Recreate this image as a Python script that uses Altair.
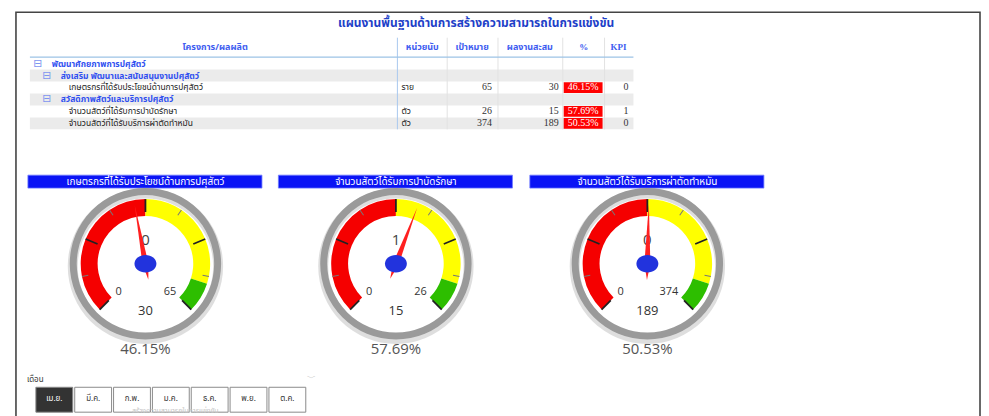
import math
import altair as alt
import pandas as pd

# ------------------------------------------------------------------ data
title_text = "แผนงานพื้นฐานด้านการสร้างความสามารถในการแข่งขัน"
headers = ["โครงการ/ผลผลิต", "หน่วยนับ", "เป้าหมาย", "ผลงานสะสม", "%", "KPI"]

row_labels = [
    "พัฒนาศักยภาพการปศุสัตว์",
    "ส่งเสริม พัฒนาและสนับสนุนงานปศุสัตว์",
    "เกษตรกรที่ได้รับประโยชน์ด้านการปศุสัตว์",
    "สวัสดิภาพสัตว์และบริการปศุสัตว์",
    "จำนวนสัตว์ที่ได้รับการบำบัดรักษา",
    "จำนวนสัตว์ที่ได้รับบริการผ่าตัดทำหมัน",
]
row_levels = [0, 1, 2, 1, 2, 2]
row_units = ["", "", "ราย", "", "ตัว", "ตัว"]
row_targets = [None, None, 65, None, 26, 374]
row_actuals = [None, None, 30, None, 15, 189]
row_kpis = [None, None, 0, None, 1, 0]

gauge_titles = [
    "เกษตรกรที่ได้รับประโยชน์ด้านการปศุสัตว์",
    "จำนวนสัตว์ได้รับการบำบัดรักษา",
    "จำนวนสัตว์ได้รับบริการผ่าตัดทำหมัน",
]
gauge_targets = [65, 26, 374]
gauge_actuals = [30, 15, 189]
gauge_kpis = [0, 1, 0]

band_from = [0.0, 0.5, 0.9]
band_to = [0.5, 0.9, 1.0]
band_colors = ["#F50000", "#FFFF00", "#2DBE00"]
major_ticks = [0.0, 0.25, 0.5, 0.75, 1.0]
minor_ticks = [0.125, 0.375, 0.625, 0.875]

slicer_label = "เดือน"
months = ["เม.ย.", "มี.ค.", "ก.พ.", "ม.ค.", "ธ.ค.", "พ.ย.", "ต.ค."]
tooltip_text = "สร้างความสามารถในการแข่งขัน"

# ------------------------------------------------------------------ layout
W, H = 977, 408
def P(v):
    return v - 8

THAI = "Tahoma, 'Noto Sans Thai', 'Leelawadee UI', sans-serif"
SERIF = "'Liberation Serif', 'Times New Roman', serif"
UI = "'Open Sans', 'Noto Sans', sans-serif"
one = pd.DataFrame({"k": [0]})
layers = []

# frame
layers.append(alt.Chart(one).mark_rect(fill="white", stroke="#444", strokeWidth=1.6).encode(
    x=alt.value(P(16)), x2=alt.value(P(984)), y=alt.value(P(11.5)), y2=alt.value(P(440))))

# title
layers.append(alt.Chart(pd.DataFrame({"t": [title_text]})).mark_text(
    font=THAI, fontSize=12, fontWeight="bold", color="#1E3FC8", baseline="middle", align="center"
).encode(x=alt.value(P(478)), y=alt.value(P(22.5)), text="t:N"))

# ---------------- table
rows = pd.DataFrame({"label": row_labels, "level": row_levels, "unit": row_units,
                     "target": row_targets, "actual": row_actuals, "kpi": row_kpis})
rows["r"] = list(range(len(rows)))
rows["r1"] = rows["r"] + 1
rows["rc"] = rows["r"] + 0.5
rows["p0"] = rows["r"] + 0.05
rows["p1"] = rows["r"] + 0.95
def fmt(v):
    return "" if v is None or pd.isna(v) else str(int(v))
rows["target_t"] = [fmt(v) for v in row_targets]
rows["actual_t"] = [fmt(v) for v in row_actuals]
rows["kpi_t"] = [fmt(v) for v in row_kpis]
rows["pct_t"] = ["" if t is None else f"{a / t * 100:.2f}%" for a, t in zip(row_actuals, row_targets)]

row_scale = alt.Scale(domain=[0, 6], range=[P(57), P(129)])
def ry(f):
    return alt.Y(f + ":Q", scale=row_scale, axis=None)

base = alt.Chart(rows)
layers.append(base.mark_rect(color="#EBEBEB").encode(
    x=alt.value(P(30)), x2=alt.value(P(636)), y=ry("r"), y2="r1"
).transform_filter("datum.r % 2 == 1"))

# separators
for i, sx in enumerate([399, 449, 500, 565, 607]):
    layers.append(alt.Chart(one).mark_rule(color="#A8C8EE" if i == 0 else "#E2E2E2", strokeWidth=1).encode(
        x=alt.value(P(sx)), y=alt.value(P(37)), y2=alt.value(P(129))))
layers.append(alt.Chart(one).mark_rule(color="#9DC3E6", strokeWidth=1.2).encode(
    x=alt.value(P(30)), x2=alt.value(P(636)), y=alt.value(P(56.5))))

# header
hdr = pd.DataFrame({"h": headers, "c": list(range(len(headers)))})
for c, hx in enumerate([216, 424, 474, 532, 586, 621]):
    layers.append(alt.Chart(hdr).mark_text(
        font=THAI if c < 4 else SERIF, fontSize=9, fontWeight="bold", color="#3D5CF0", align="center", baseline="middle"
    ).encode(x=alt.value(P(hx)), y=alt.value(P(46)), text="h:N").transform_filter(f"datum.c == {c}"))

# row labels
for lvl, (ix, tx) in enumerate([(38, 52), (47, 61), (None, 69)]):
    if ix is not None:
        layers.append(base.mark_text(font="DejaVu Sans", fontSize=11, color="#7D95F0", align="center",
                                     baseline="middle").encode(
            x=alt.value(P(ix)), y=ry("rc"), text=alt.value("⊟")).transform_filter(f"datum.level == {lvl}"))
    layers.append(base.mark_text(
        font=THAI, fontSize=8.5, fontWeight="bold" if lvl < 2 else "normal",
        color="#3050F0" if lvl < 2 else "#222", align="left", baseline="middle"
    ).encode(x=alt.value(P(tx)), y=ry("rc"), text="label:N").transform_filter(f"datum.level == {lvl}"))

leaf = base.transform_filter("datum.level == 2")
layers.append(leaf.mark_text(font=THAI, fontSize=8.5, color="#222", align="left", baseline="middle").encode(
    x=alt.value(P(403)), y=ry("rc"), text="unit:N"))
layers.append(leaf.mark_text(font=SERIF, fontSize=10, color="#333", align="right", baseline="middle").encode(
    x=alt.value(P(494)), y=ry("rc"), text="target_t:N"))
layers.append(leaf.mark_text(font=SERIF, fontSize=10, color="#333", align="right", baseline="middle").encode(
    x=alt.value(P(561)), y=ry("rc"), text="actual_t:N"))
layers.append(leaf.mark_rect(color="#FF0000").encode(
    x=alt.value(P(566)), x2=alt.value(P(605)), y=ry("p0"), y2="p1"))
layers.append(leaf.mark_text(font=SERIF, fontSize=10, color="white", align="center", baseline="middle").encode(
    x=alt.value(P(585.5)), y=ry("rc"), text="pct_t:N"))
layers.append(leaf.mark_text(font=SERIF, fontSize=10, color="#333", align="right", baseline="middle").encode(
    x=alt.value(P(631)), y=ry("rc"), text="kpi_t:N"))

# ---------------- gauges
theta_scale = alt.Scale(domain=[0, 1], range=[1.25 * math.pi, 2.75 * math.pi])
angle_scale = alt.Scale(domain=[0, 1], range=[225, 495])
bands = pd.DataFrame({"f0": band_from, "f1": band_to, "col": band_colors})
ticks_major = pd.DataFrame({"f": major_ticks})
ticks_minor = pd.DataFrame({"f": minor_ticks})

R_BAND, R_BAND_IN = 65, 48
NEEDLE = "M 0 -1 L 0.05 0 L 0 0.27 L -0.05 0 Z"
HUB = "M -1 0 A 1 0.8 0 1 0 1 0 A 1 0.8 0 1 0 -1 0 Z"

for i, gcx in enumerate([146, 397.5, 650]):
    cx, cy = P(gcx), P(264)
    g = pd.DataFrame({"title": [gauge_titles[i]], "target": [gauge_targets[i]],
                      "actual": [gauge_actuals[i]], "kpi": [gauge_kpis[i]]})
    g["pct"] = g["actual"] / g["target"]
    g["pct_t"] = (g["pct"] * 100).map(lambda v: f"{v:.2f}%")
    g["min_t"] = "0"
    gb = alt.Chart(g)

    layers.append(alt.Chart(one).mark_rect(color="#0A14F5", stroke="#6E7BFF", strokeWidth=0.8).encode(
        x=alt.value(cx - 118), x2=alt.value(cx + 117), y=alt.value(P(175)), y2=alt.value(P(188))))
    layers.append(gb.mark_text(font=THAI, fontSize=10, color="white", align="center", baseline="middle").encode(
        x=alt.value(cx), y=alt.value(P(181.5)), text="title:N"))

    # ring with soft shadow
    layers.append(alt.Chart(one).mark_arc(radius=78, radius2=68, theta=0, theta2=2 * math.pi,
                                          color="#C8C8C8", opacity=0.6).encode(
        x=alt.value(cx), y=alt.value(cy + 2.5)))
    layers.append(alt.Chart(one).mark_arc(radius=76, radius2=69, theta=0, theta2=2 * math.pi,
                                          color="#9A9A9A").encode(x=alt.value(cx), y=alt.value(cy)))

    # bands
    layers.append(alt.Chart(bands).mark_arc(radius=R_BAND, radius2=R_BAND_IN).encode(
        x=alt.value(cx), y=alt.value(cy),
        theta=alt.Theta("f0:Q", scale=theta_scale, stack=None),
        theta2=alt.Theta2("f1:Q"),
        color=alt.Color("col:N", scale=None)))

    # ticks
    layers.append(alt.Chart(ticks_minor).mark_point(
        shape="M 0 -1 L 0 -0.9", filled=False, size=(2 * R_BAND) ** 2, color="#777",
        strokeWidth=1, opacity=1).encode(
        x=alt.value(cx), y=alt.value(cy), angle=alt.Angle("f:Q", scale=angle_scale)))
    layers.append(alt.Chart(ticks_major).mark_point(
        shape="M 0 -1 L 0 -0.8", filled=False, size=(2 * R_BAND) ** 2, color="#222",
        strokeWidth=1.8, opacity=1).encode(
        x=alt.value(cx), y=alt.value(cy), angle=alt.Angle("f:Q", scale=angle_scale)))

    # labels
    layers.append(gb.mark_text(font=UI, fontSize=11, color="#333", align="left", baseline="middle").encode(
        x=alt.value(cx - 30), y=alt.value(cy + 28), text="min_t:N"))
    layers.append(gb.mark_text(font=UI, fontSize=11, color="#333", align="right", baseline="middle").encode(
        x=alt.value(cx + 31), y=alt.value(cy + 28), text="target:Q"))
    layers.append(gb.mark_text(font=UI, fontSize=15, color="#444", align="center", baseline="middle").encode(
        x=alt.value(cx), y=alt.value(cy - 24), text="kpi:Q"))
    layers.append(gb.mark_text(font=UI, fontSize=13, color="#333", align="center", baseline="middle").encode(
        x=alt.value(cx), y=alt.value(cy + 47), text="actual:Q"))
    layers.append(gb.mark_text(font=UI, fontSize=15, color="#555", align="center", baseline="middle").encode(
        x=alt.value(cx), y=alt.value(P(350)), text="pct_t:N"))

    # needle and hub
    layers.append(gb.mark_point(shape=NEEDLE, filled=True, size=(2 * 60) ** 2, color="#FF2020",
                                opacity=1, strokeWidth=0).encode(
        x=alt.value(cx), y=alt.value(cy), angle=alt.Angle("pct:Q", scale=angle_scale)))
    layers.append(alt.Chart(one).mark_point(shape=HUB, filled=True, size=22 ** 2, color="#2233DD",
                                            opacity=1, strokeWidth=0).encode(
        x=alt.value(cx), y=alt.value(cy)))

# ---------------- month slicer
layers.append(alt.Chart(pd.DataFrame({"t": [slicer_label]})).mark_text(
    font=THAI, fontSize=8, color="#333", align="left", baseline="middle").encode(
    x=alt.value(P(27)), y=alt.value(P(381)), text="t:N"))
layers.append(alt.Chart(one).mark_text(font="DejaVu Sans", fontSize=9, color="#AAAAAA", align="center",
                                      baseline="middle").encode(
    x=alt.value(P(313)), y=alt.value(P(379)), text=alt.value("﹀")))

mdf = pd.DataFrame({"m": months})
mdf["i"] = list(range(len(months)))
mdf["i2"] = mdf["i"] + 37 / 39
mdf["ic"] = mdf["i"] + 18.5 / 39
btn_scale = alt.Scale(domain=[0, 7], range=[P(36), P(36 + 39 * 7)])
mb = alt.Chart(mdf)
layers.append(mb.mark_rect(stroke="#8A8A8A", strokeWidth=1).encode(
    x=alt.X("i:Q", scale=btn_scale, axis=None), x2="i2",
    y=alt.value(P(388)), y2=alt.value(P(413)),
    fill=alt.condition("datum.i == 0", alt.value("#333333"), alt.value("white"))))
layers.append(mb.mark_text(font=THAI, fontSize=8, align="center", baseline="middle").encode(
    x=alt.X("ic:Q", scale=btn_scale, axis=None), y=alt.value(P(400)), text="m:N",
    color=alt.condition("datum.i == 0", alt.value("white"), alt.value("#333333"))))
layers.append(alt.Chart(pd.DataFrame({"t": [tooltip_text]})).mark_text(
    font=THAI, fontSize=7, color="#C4C4C4", align="center", baseline="middle").encode(
    x=alt.value(P(176)), y=alt.value(P(412)), text="t:N"))

chart = alt.layer(*layers).properties(
    width=W, height=H, autosize=alt.AutoSizeParams(type="none"), padding=0,
    background="white"
).configure_view(stroke=None)

chart.save("out.html", embed_options={"renderer": "svg", "actions": False})
